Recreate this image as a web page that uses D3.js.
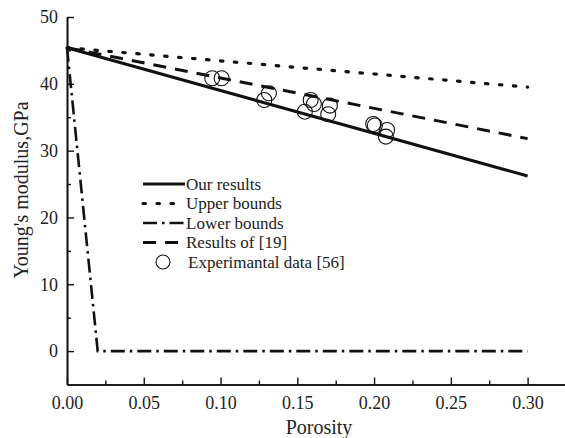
<!DOCTYPE html>
<html>
<head>
<meta charset="utf-8">
<script src="https://cdn.jsdelivr.net/npm/d3@7"></script>
<style>
  html, body { margin: 0; padding: 0; background: #fff; }
  svg { display: block; }
</style>
</head>
<body>
<svg id="chart" width="565" height="438"></svg>
<script>
// Model curves: porosity vs Young's modulus (GPa)
const ourResults   = [[0, 45.4], [0.30, 26.2]];
const upperBounds  = [[0, 45.4], [0.30, 39.5]];
const lowerBounds  = [[0, 45.4], [0.02, 0], [0.30, 0]];
const results19    = [[0, 45.4], [0.30, 31.8]];

// Experimental measurements [56]
const expPorosity = [0.0946, 0.1007, 0.1315, 0.1285, 0.1587, 0.1608, 0.1549, 0.1712, 0.1701, 0.1994, 0.2005, 0.2085, 0.2077];
const expModulus  = [40.83, 40.83, 38.58, 37.58, 37.58, 36.98, 35.83, 36.73, 35.44, 33.99, 33.76, 33.09, 32.09];

const xTicks = [0, 0.05, 0.10, 0.15, 0.20, 0.25, 0.30];
const xMinorTicks = [0.025, 0.075, 0.125, 0.175, 0.225, 0.275];
const yTicks = [0, 10, 20, 30, 40, 50];
const yMinorTicks = [5, 15, 25, 35, 45];

const legendLabels = ["Our results", "Upper bounds", "Lower bounds", "Results of [19]", "Experimantal data [56]"];

const FONT = "Liberation Serif";
const INK = "#222";

const svg = d3.select("#chart");
const x = d3.scaleLinear().domain([0, 0.325]).range([67, 566]);
const y = d3.scaleLinear().domain([-5, 50]).range([384.5, 17]);

// Axes (ticks point inward)
const xAxis = d3.axisBottom(x).tickValues(xTicks).tickFormat(d3.format(".2f"))
  .tickSizeInner(-7).tickSizeOuter(0).tickPadding(12);
const xMinor = d3.axisBottom(x).tickValues(xMinorTicks).tickFormat("")
  .tickSizeInner(-4).tickSizeOuter(0);
const yAxis = d3.axisLeft(y).tickValues(yTicks).tickFormat(d3.format("d"))
  .tickSizeInner(-7).tickSizeOuter(0).tickPadding(9);
const yMinor = d3.axisLeft(y).tickValues(yMinorTicks).tickFormat("")
  .tickSizeInner(-4).tickSizeOuter(0);

function styleAxis(g) {
  g.select(".domain").attr("stroke", "#111").attr("stroke-width", 1.6);
  g.selectAll(".tick line").attr("stroke", "#111").attr("stroke-width", 1.4);
  g.selectAll(".tick text").style("font-family", FONT).style("font-size", "18px").attr("fill", INK);
}

svg.append("g").attr("transform", "translate(0,384.5)").call(xMinor).call(styleAxis);
svg.append("g").attr("transform", "translate(0,384.5)").call(xAxis).call(styleAxis);
svg.append("g").attr("transform", "translate(67,0)").call(yMinor).call(styleAxis);
svg.append("g").attr("transform", "translate(67,0)").call(yAxis).call(styleAxis);

// Axis titles
svg.append("text").attr("x", 319).attr("y", 434).attr("text-anchor", "middle")
  .style("font-family", FONT).style("font-size", "20px").attr("fill", INK).text("Porosity");
svg.append("text").attr("transform", "translate(28,190) rotate(-90)").attr("text-anchor", "middle")
  .style("font-family", FONT).style("font-size", "20px").attr("fill", INK).text("Young's modulus,GPa");

// Curve styles
const styles = [
  { data: ourResults,  dash: null,          width: 3 },
  { data: upperBounds, dash: "2.5,11.5",    width: 3.2, cap: "round" },
  { data: lowerBounds, dash: "14,5,2.5,5",  width: 2.6 },
  { data: results19,   dash: "13,9",        width: 3 }
];

const line = d3.line().x(d => x(d[0])).y(d => y(d[1]));
styles.forEach(s => {
  svg.append("path").attr("d", line(s.data)).attr("fill", "none")
    .attr("stroke", "#111").attr("stroke-width", s.width)
    .attr("stroke-dasharray", s.dash)
    .attr("stroke-linecap", s.cap || "butt");
});

// Experimental points
svg.append("g").selectAll("circle").data(expPorosity).join("circle")
  .attr("cx", d => x(d))
  .attr("cy", (d, i) => y(expModulus[i]))
  .attr("r", 7.5)
  .attr("fill", "none").attr("stroke", "#111").attr("stroke-width", 1.1);

// Legend
const legend = svg.append("g");
const rowY = [184, 203.5, 223, 242.5, 262];
styles.forEach((s, i) => {
  legend.append("line").attr("x1", 143).attr("x2", 185).attr("y1", rowY[i]).attr("y2", rowY[i])
    .attr("stroke", "#111").attr("stroke-width", s.width)
    .attr("stroke-dasharray", s.dash)
    .attr("stroke-linecap", s.cap || "butt");
});
legend.append("circle").attr("cx", 163).attr("cy", rowY[4]).attr("r", 7)
  .attr("fill", "none").attr("stroke", "#111").attr("stroke-width", 1.1);
legendLabels.forEach((t, i) => {
  legend.append("text").attr("x", i === 4 ? 188 : 186).attr("y", rowY[i] + 5.5)
    .style("font-family", FONT).style("font-size", "17px").attr("fill", INK).text(t);
});
</script>
</body>
</html>
